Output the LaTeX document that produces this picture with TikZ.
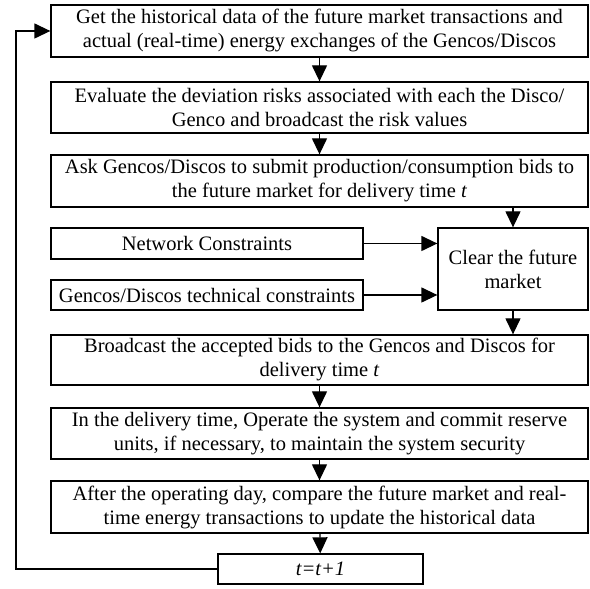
\documentclass[tikz,border=0pt]{standalone}
\usepackage{fontspec}
\setmainfont{Liberation Serif}
\usetikzlibrary{arrows.meta}
\begin{document}
\begin{tikzpicture}[x=1pt,y=1pt,
  box/.style={draw, line width=1.3pt, align=center, inner sep=0pt,
    font=\fontsize{20.5}{24}\selectfont},
  wide/.style={box, minimum width=537pt},
  arr/.style={line width=1.3pt, -{Triangle[length=16pt,width=15pt]}}]
\useasboundingbox (0,0) rectangle (590,589);
\node[wide, minimum height=52pt] (b1) at (319.5,558) {Get the historical data of the future market transactions and\\actual (real-time) energy exchanges of the Gencos/Discos};
\node[wide, minimum height=51pt] (b2) at (319.5,481.5) {Evaluate the deviation risks associated with each the Disco/\\Genco and broadcast the risk values};
\node[wide, minimum height=52pt] (b3) at (319.5,408) {Ask Gencos/Discos to submit production/consumption bids to\\the future market for delivery time \textit{t}};
\node[box, minimum width=312pt, minimum height=31pt] (nc) at (207,345.5) {Network Constraints};
\node[box, minimum width=312pt, minimum height=30pt] (gt) at (207,294) {Gencos/Discos technical constraints};
\node[box, minimum width=150pt, minimum height=82pt] (cl) at (513,320) {Clear the future\\market};
\node[wide, minimum height=50pt] (b4) at (319.5,229) {Broadcast the accepted bids to the Gencos and Discos for\\delivery time \textit{t}};
\node[wide, minimum height=51pt] (b5) at (319.5,155.5) {In the delivery time, Operate the system and commit reserve\\units, if necessary, to maintain the system security};
\node[wide, minimum height=52pt] (b6) at (319.5,82) {After the operating day, compare the future market and real-\\time energy transactions to update the historical data};
\node[box, minimum width=205pt, minimum height=30pt] (b7) at (320.5,20) {\textit{t=t+1}};
\coordinate (c1) at (16,20);
\coordinate (c2) at (16,558);
\draw[arr] (b1) -- (b2);
\draw[arr] (b2) -- (b3);
\draw[arr] (b3.south -| cl) -- (cl);
\draw[arr] (nc) -- (nc -| cl.west);
\draw[arr] (gt) -- (gt -| cl.west);
\draw[arr] (cl) -- (cl |- b4.north);
\draw[arr] (b4) -- (b5);
\draw[arr] (b5) -- (b6);
\draw[arr] (b6) -- (b7);
\draw[arr] (b7.west) -- (c1) -- (c2) -- (b1.west);
\end{tikzpicture}
\end{document}
